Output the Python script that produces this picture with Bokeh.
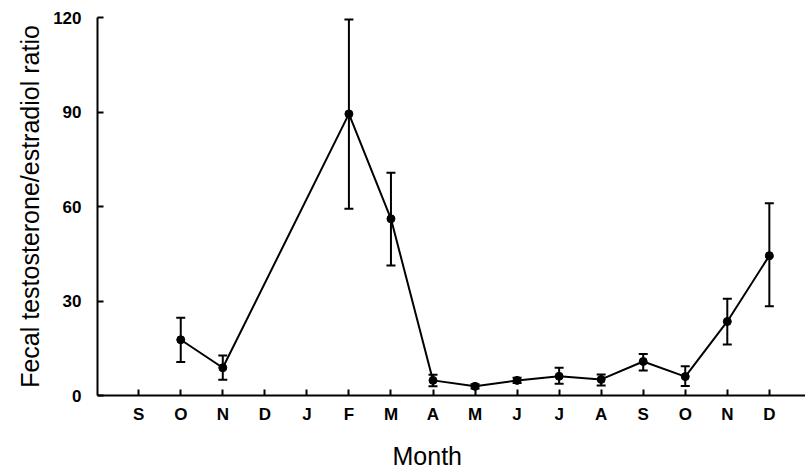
from bokeh.plotting import figure
from bokeh.models import Range1d, FixedTicker, Whisker, TeeHead, ColumnDataSource, Title, LinearAxis
from bokeh.embed import file_html
from bokeh.resources import INLINE

months = ["S", "O", "N", "D", "J", "F", "M", "A", "M", "J", "J", "A", "S", "O", "N", "D"]
month_idx = [1, 2, 5, 6, 7, 8, 9, 10, 11, 12, 13, 14, 15]
ratio = [17.7, 8.8, 89.4, 56.1, 4.8, 2.9, 4.8, 6.1, 5.1, 10.8, 6.0, 23.5, 44.4]
upper = [24.7, 12.7, 119.4, 70.7, 6.6, 3.6, 5.6, 8.8, 6.7, 13.2, 9.3, 30.7, 61.0]
lower = [10.6, 5.0, 59.3, 41.3, 2.9, 2.2, 4.0, 3.7, 3.2, 7.9, 3.0, 16.2, 28.3]
y_ticks = [0, 30, 60, 90, 120]

src = ColumnDataSource(dict(x=month_idx, y=ratio, up=upper, lo=lower))

p = figure(width=805, height=471, output_backend="svg", toolbar_location=None,
           x_range=Range1d(-0.98, 15.86), y_range=Range1d(0, 120),
           min_border_left=97, min_border_right=0, min_border_top=17, min_border_bottom=76)
p.outline_line_color = None
p.xgrid.visible = False
p.ygrid.visible = False

p.line("x", "y", source=src, line_color="black", line_width=2)
p.scatter("x", "y", source=src, size=8, color="black")
w = Whisker(source=src, base="x", upper="up", lower="lo", line_color="black", line_width=2,
            upper_head=TeeHead(size=9, line_width=2, line_color="black"),
            lower_head=TeeHead(size=9, line_width=2, line_color="black"))
p.add_layout(w)

for ax in (p.xaxis[0], p.yaxis[0]):
    ax.axis_line_width = 2
    ax.axis_line_color = "black"
    ax.major_tick_line_width = 2
    ax.major_tick_line_color = "black"
    ax.major_tick_in = 6
    ax.major_tick_out = 0
    ax.minor_tick_line_color = None
    ax.major_label_text_font = "Liberation Sans"
    ax.major_label_text_font_style = "bold"
    ax.major_label_text_font_size = "17px"
    ax.major_label_text_color = "black"

p.xaxis.ticker = FixedTicker(ticks=list(range(len(months))))
p.xaxis.major_label_overrides = {i: m for i, m in enumerate(months)}
p.xaxis.major_label_standoff = 9
p.yaxis.ticker = FixedTicker(ticks=y_ticks)
p.yaxis.major_label_standoff = 16

p.yaxis.axis_label = "Fecal testosterone/estradiol ratio"
p.yaxis.axis_label_text_font = "Liberation Sans"
p.yaxis.axis_label_text_font_style = "normal"
p.yaxis.axis_label_text_font_size = "25px"
p.yaxis.axis_label_text_color = "black"
p.yaxis.axis_label_standoff = 6

# invisible spacer axis to push the "Month" title down
spacer = LinearAxis(ticker=FixedTicker(ticks=[0]), axis_line_color=None,
                    major_tick_in=0, major_tick_out=13, major_tick_line_color=None,
                    minor_tick_in=0, minor_tick_out=0, major_label_standoff=0,
                    major_label_overrides={0: ""})
p.add_layout(spacer, "below")

p.add_layout(Title(text="Month", align="left", offset=295, standoff=0,
                   text_font="Liberation Sans", text_font_size="25px",
                   text_font_style="normal", text_color="black"), "below")

open("out.html", "w").write(file_html(p, INLINE))
